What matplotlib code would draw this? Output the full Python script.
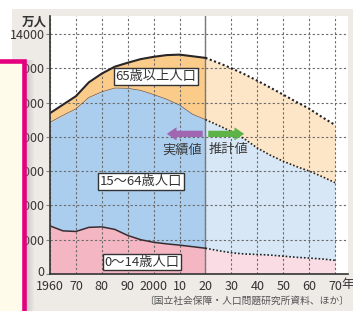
import matplotlib.pyplot as plt
from matplotlib.patches import Rectangle, FancyArrowPatch
from matplotlib.transforms import ScaledTranslation
import numpy as np

plt.rcParams['font.family'] = ['Noto Sans CJK JP', 'DejaVu Sans']

# actual values (万人)
years_act = [1960, 1965, 1970, 1975, 1980, 1985, 1990, 1995, 2000, 2005, 2010, 2015, 2020]
child_act = [2807, 2517, 2482, 2722, 2751, 2603, 2249, 2001, 1851, 1759, 1684, 1595, 1503]
work_act = [6047, 6744, 7157, 7581, 7883, 8251, 8590, 8716, 8622, 8442, 8173, 7728, 7509]
old_act = [535, 624, 739, 887, 1065, 1247, 1493, 1826, 2204, 2576, 2948, 3387, 3603]

# projected values (万人)
years_est = [2020, 2025, 2030, 2035, 2040, 2045, 2050, 2055, 2060, 2065, 2070]
child_est = [1503, 1363, 1240, 1169, 1142, 1103, 1041, 976, 930, 878, 797]
work_est = [7509, 7310, 7076, 6722, 6213, 5832, 5540, 5302, 5078, 4809, 4535]
old_est = [3603, 3653, 3696, 3773, 3929, 3945, 3888, 3773, 3644, 3471, 3367]

xtick_years = [1960, 1970, 1980, 1990, 2000, 2010, 2020, 2030, 2040, 2050, 2060, 2070]
xtick_labels = ['1960', '70', '80', '90', '2000', '10', '20', '30', '40', '50', '60', '70']
ytick_vals = [0, 2000, 4000, 6000, 8000, 10000, 12000, 14000]

W, H = 353, 311
fig = plt.figure(figsize=(W / 100, H / 100), dpi=100)
fig.patch.set_facecolor('white')
fig.add_artist(Rectangle((12 / W, 0), 1, 302 / H, transform=fig.transFigure,
                         facecolor='#eeebe7', edgecolor='none', zorder=-5))

ax = fig.add_axes([50 / W, 37 / H, 298 / W, 258 / H])
ax.set_facecolor('white')

a1 = np.array(child_act)
a2 = a1 + np.array(work_act)
a3 = a2 + np.array(old_act)
e1 = np.array(child_est)
e2 = e1 + np.array(work_est)
e3 = e2 + np.array(old_est)

ax.fill_between(years_act, 0, a1, color='#f5b6c4', lw=0, zorder=1)
ax.fill_between(years_act, a1, a2, color='#abcdee', lw=0, zorder=1)
ax.fill_between(years_act, a2, a3, color='#fbcc89', lw=0, zorder=1)
ax.fill_between(years_est, 0, e1, color='#fadde4', lw=0, zorder=1)
ax.fill_between(years_est, e1, e2, color='#d8e7f6', lw=0, zorder=1)
ax.fill_between(years_est, e2, e3, color='#fde5c7', lw=0, zorder=1)

ax.grid(True, ls=(0, (2, 2)), color='#6a6a6a', lw=0.8)
ax.set_axisbelow(False)
ax.axvline(2020, color='#7a7a7a', lw=1.0, zorder=3)

ax.plot(years_act, a3, color='#2a2424', lw=1.5, zorder=4)
ax.plot(years_act, a2, color='#5a5a6a', lw=0.5, zorder=4)
ax.plot(years_act, a1, color='#3a2a2e', lw=1.1, zorder=4)
dots = (0, (1, 1.2))
ax.plot(years_est, e3, color='#222222', lw=1.5, ls=dots, zorder=4)
ax.plot(years_est, e2, color='#222222', lw=1.2, ls=dots, zorder=4)
ax.plot(years_est, e1, color='#222222', lw=1.2, ls=dots, zorder=4)

ax.set_xlim(1960, 2075)
ax.set_ylim(0, 15060)
ax.set_xticks(xtick_years)
ax.set_xticklabels(xtick_labels)
ax.set_yticks(ytick_vals)
ax.tick_params(axis='x', length=0, pad=4, labelsize=9, colors='#333333')
ax.tick_params(axis='y', length=3, pad=1, labelsize=9, colors='#333333', color='#888888')
for s in ['top', 'right']:
    ax.spines[s].set_visible(False)
for s in ['left', 'bottom']:
    ax.spines[s].set_color('#333333')
    ax.spines[s].set_linewidth(1.2)
    ax.spines[s].set_zorder(5)

# nudge the "0" label up so it clears "1960"
zero_lbl = ax.get_yticklabels()[0]
zero_lbl.set_transform(zero_lbl.get_transform() + ScaledTranslation(0, 3.5 / 100, fig.dpi_scale_trans))

ax.text(1, -0.016, '年', transform=ax.transAxes, ha='center', va='top',
        fontsize=9, color='#333333')

box = dict(boxstyle='square,pad=0.15', fc='white', ec='#333333', lw=1)
ax.text(2000.9, 11507, '65歳以上人口', ha='center', va='center', fontsize=9.5,
        color='#333333', bbox=box, zorder=6)
ax.text(1995.1, 5374, '15〜64歳人口', ha='center', va='center', fontsize=9.5,
        color='#333333', bbox=box, zorder=6)
ax.text(1995.5, 700, '0〜14歳人口', ha='center', va='center', fontsize=9.5,
        color='#333333', bbox=box, zorder=6)

style = 'simple,head_length=0.7,head_width=0.95,tail_width=0.45'
ax.add_patch(FancyArrowPatch((2020, 8180), (2004, 8180), arrowstyle=style,
                             mutation_scale=10, color='#a066b0', lw=0, zorder=6))
ax.add_patch(FancyArrowPatch((2020, 8180), (2036, 8180), arrowstyle=style,
                             mutation_scale=10, color='#5db345', lw=0, zorder=6))
ax.text(2011.1, 7240, '実績値', ha='center', va='center', fontsize=9.5, color='#3c3c3c', zorder=6)
ax.text(2028.9, 7240, '推計値', ha='center', va='center', fontsize=9.5, color='#3c3c3c', zorder=6)

fig.text(34 / W, 1 - 22 / H, '万人', ha='center', va='center', fontsize=9,
         weight='bold', color='#333333')
fig.text(349 / W, 1 - 301 / H, '〔国立社会保障・人口問題研究所資料、ほか〕', ha='right',
         va='center', fontsize=7, color='#555555')

# sidebar box overlapping the left edge
for i in range(8):
    fig.add_artist(Rectangle(((26 + i) / W, 0), 1 / W, (311 - 60) / H,
                             transform=fig.transFigure, facecolor='#8a8a8a',
                             alpha=0.35 * (1 - i / 8), edgecolor='none', zorder=9))
fig.add_artist(Rectangle((-10 / W, -0.1), 34 / W, (311 - 60.5) / H + 0.1,
                         transform=fig.transFigure, facecolor='#fffbea',
                         edgecolor='#e4007f', lw=3.3, zorder=10))

fig.savefig('out.png', dpi=100)
